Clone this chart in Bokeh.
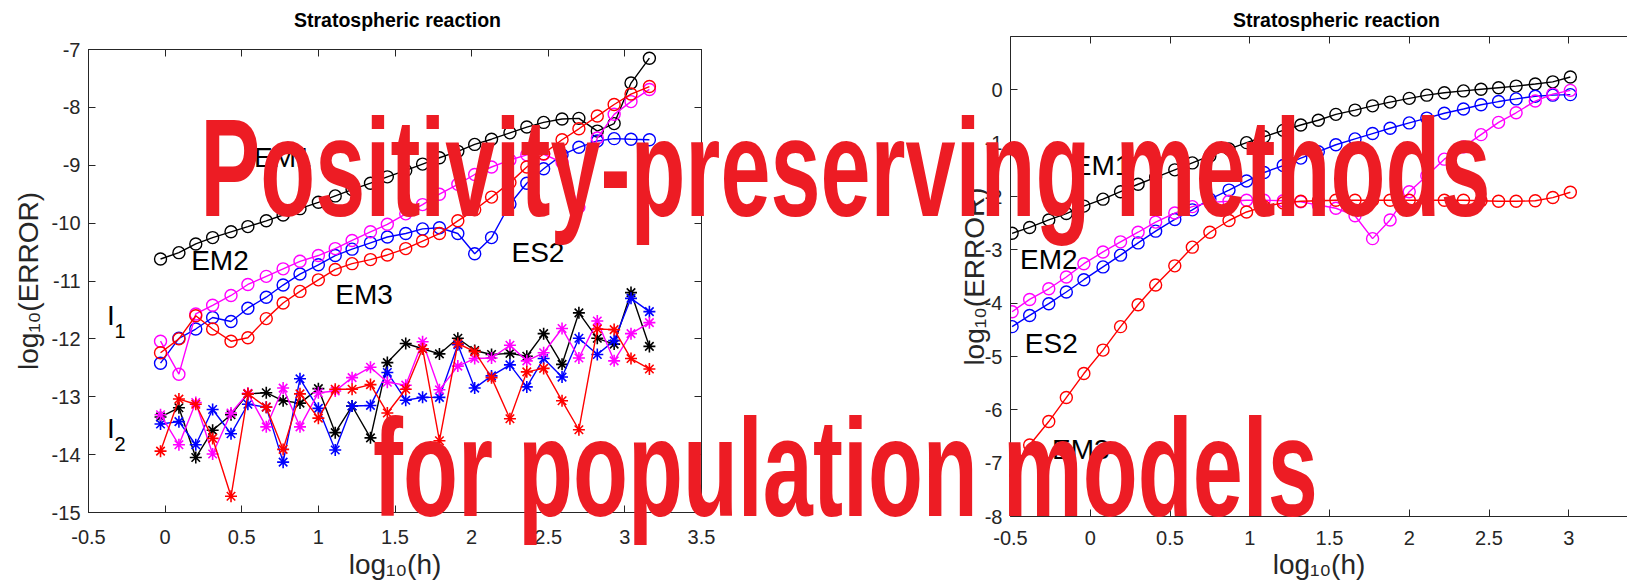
from bokeh.plotting import figure
from bokeh.layouts import column
from bokeh.models import Range1d, LinearAxis, FixedTicker, GridBox, CustomLabelingPolicy, InlineStyleSheet
from bokeh.embed import file_html
from bokeh.resources import INLINE
from bokeh.core.properties import value

# ---------------- data: left panel ----------------
log_h_left = [-0.03, 0.09, 0.20, 0.31, 0.43, 0.54, 0.66, 0.77, 0.88, 1.00, 1.11, 1.22, 1.34, 1.45,
              1.57, 1.68, 1.79, 1.91, 2.02, 2.13, 2.25, 2.36, 2.47, 2.59, 2.70, 2.82, 2.93, 3.04, 3.16]

I1_black = [-10.62, -10.51, -10.36, -10.25, -10.15, -10.06, -9.96, -9.86, -9.75, -9.64, -9.53, -9.42,
            -9.31, -9.20, -9.09, -8.98, -8.87, -8.76, -8.64, -8.55, -8.44, -8.34, -8.26, -8.20, -8.19,
            -8.41, -8.28, -7.58, -7.15]
I1_blue = [-12.42, -11.99, -11.83, -11.63, -11.70, -11.47, -11.28, -11.07, -10.88, -10.72, -10.56, -10.45,
           -10.34, -10.24, -10.18, -10.10, -10.08, -10.18, -10.53, -10.25, -9.67, -9.31, -9.06, -8.82,
           -8.69, -8.58, -8.54, -8.55, -8.56]
I1_magenta = [-12.04, -12.61, -11.57, -11.42, -11.25, -11.06, -10.92, -10.79, -10.66, -10.56, -10.44,
              -10.30, -10.15, -10.02, -9.84, -9.68, -9.50, -9.33, -9.16, -9.03, -8.91, -8.82, -8.81,
              -8.95, -9.72, -8.53, -8.12, -7.90, -7.69]
I1_red = [-12.24, -12.00, -11.60, -11.83, -12.04, -11.98, -11.65, -11.38, -11.18, -10.98, -10.80, -10.70,
          -10.63, -10.55, -10.44, -10.31, -10.18, -9.96, -9.77, -9.55, -9.30, -9.03, -8.80, -8.56, -8.37,
          -8.15, -7.95, -7.77, -7.64]

I2_black = [-13.35, -13.19, -14.05, -13.58, -13.31, -12.95, -12.93, -13.07, -13.11, -12.86, -13.62, -13.16,
            -13.71, -12.41, -12.08, -12.17, -12.26, -11.99, -12.20, -12.27, -12.25, -12.30, -11.91, -12.44,
            -11.55, -11.99, -12.09, -11.20, -12.13]
I2_blue = [-13.47, -13.43, -13.83, -13.22, -13.64, -13.13, -13.18, -14.13, -12.69, -13.20, -13.92, -13.16,
           -13.15, -12.58, -13.06, -13.01, -13.01, -12.10, -12.85, -12.64, -12.45, -12.83, -12.34, -12.66,
           -11.99, -12.27, -12.03, -11.30, -11.53]
I2_magenta = [-13.31, -13.83, -13.10, -13.99, -13.28, -12.94, -13.52, -12.85, -13.52, -12.93, -12.90, -12.67,
              -12.49, -12.75, -12.80, -12.05, -12.88, -12.47, -12.34, -12.33, -12.11, -12.38, -12.24, -11.82,
              -12.33, -11.69, -12.38, -11.91, -11.72]
I2_red = [-13.94, -13.04, -13.13, -13.72, -14.72, -12.95, -13.18, -13.91, -12.95, -13.37, -12.87, -12.87,
          -12.79, -13.28, -12.87, -12.17, -13.76, -12.08, -12.22, -12.67, -13.38, -12.57, -12.51, -13.07,
          -13.57, -11.83, -11.84, -12.34, -12.52]

# ---------------- data: right panel ----------------
log_h_right = [-0.49, -0.38, -0.26, -0.15, -0.04, 0.08, 0.19, 0.30, 0.41, 0.53, 0.64, 0.75, 0.87, 0.98,
               1.09, 1.21, 1.32, 1.43, 1.54, 1.66, 1.77, 1.88, 2.00, 2.11, 2.22, 2.34, 2.45, 2.56, 2.67,
               2.79, 2.90, 3.01]
R_black = [-2.69, -2.58, -2.44, -2.32, -2.18, -2.05, -1.91, -1.77, -1.64, -1.50, -1.37, -1.24, -1.11,
           -0.99, -0.88, -0.76, -0.66, -0.57, -0.46, -0.38, -0.30, -0.23, -0.16, -0.10, -0.055, -0.02,
           0.01, 0.04, 0.07, 0.11, 0.15, 0.24]
R_blue = [-4.44, -4.23, -4.01, -3.79, -3.56, -3.32, -3.10, -2.87, -2.65, -2.43, -2.25, -2.05, -1.88,
          -1.71, -1.55, -1.42, -1.28, -1.16, -1.03, -0.92, -0.82, -0.72, -0.62, -0.53, -0.44, -0.36,
          -0.28, -0.22, -0.17, -0.12, -0.10, -0.09]
R_magenta = [-4.16, -3.93, -3.73, -3.51, -3.26, -3.04, -2.85, -2.67, -2.48, -2.31, -2.19, -2.11, -2.09,
             -2.07, -2.07, -2.08, -2.10, -2.16, -2.22, -2.36, -2.79, -2.44, -1.91, -1.61, -1.30, -1.07,
             -0.84, -0.61, -0.43, -0.21, -0.08, -0.01]
R_red = [-7.10, -6.66, -6.22, -5.77, -5.32, -4.88, -4.44, -4.03, -3.66, -3.30, -2.95, -2.67, -2.45,
         -2.29, -2.19, -2.12, -2.09, -2.08, -2.07, -2.07, -2.07, -2.07, -2.07, -2.07, -2.07, -2.07,
         -2.08, -2.09, -2.09, -2.08, -2.02, -1.92]

# ---------------- ticks and labels ----------------
x_ticks_left = [-0.5, 0, 0.5, 1, 1.5, 2, 2.5, 3, 3.5]
x_tick_labels_left = ["-0.5", "0", "0.5", "1", "1.5", "2", "2.5", "3", "3.5"]
y_ticks_left = [-15, -14, -13, -12, -11, -10, -9, -8, -7]
y_tick_labels_left = ["-15", "-14", "-13", "-12", "-11", "-10", "-9", "-8", "-7"]
x_ticks_right = [-0.5, 0, 0.5, 1, 1.5, 2, 2.5, 3]
x_tick_labels_right = ["-0.5", "0", "0.5", "1", "1.5", "2", "2.5", "3"]
y_ticks_right = [-8, -7, -6, -5, -4, -3, -2, -1, 0]
y_tick_labels_right = ["-8", "-7", "-6", "-5", "-4", "-3", "-2", "-1", "0"]

title_text = "Stratospheric reaction"
x_label = "log\u2081\u2080(h)"
y_label = "log\u2081\u2080(ERROR)"
overlay_lines = ["Positivity-preserving methods", "for population models"]

left_labels = [("EM1", 0.58, -8.87), ("EM2", 0.17, -10.64), ("ES2", 2.26, -10.50), ("EM3", 1.11, -11.23),
               ("I", -0.38, -11.60), ("I", -0.38, -13.55)]
left_subscripts = [("1", -0.33, -11.86), ("2", -0.33, -13.81)]
right_labels = [("EM1", -0.11, -1.42), ("EM2", -0.44, -3.19), ("ES2", -0.41, -4.75), ("EM3", -0.24, -6.75)]

FONT = "Liberation Sans"
AX = "#262626"
COLORS = {"black": "#000000", "blue": "#0000ff", "magenta": "#ff00ff", "red": "#ff0000"}

W1 = 760
W2 = 1627 - W1
H = 584
SY = 1.547          # vertical stretch of the banner text (it is a tall condensed face)
BANNER_SHIFT = 222  # measured page offset of the stretched banner canvas

HIDE_LABELS = "for (const i of indices) { indices.unset(i) }\nreturn indices"


def style_axes(p, xt, xl, yt, yl, x_std, xl_std, y_lab_std):
    p.xaxis.ticker = FixedTicker(ticks=xt)
    p.xaxis.major_label_overrides = {t: l for t, l in zip(xt, xl)}
    p.yaxis.ticker = FixedTicker(ticks=yt)
    p.yaxis.major_label_overrides = {t: l for t, l in zip(yt, yl)}
    for ax in p.xaxis + p.yaxis:
        ax.axis_line_color = AX
        ax.major_tick_line_color = AX
        ax.minor_tick_line_color = None
        ax.major_tick_in = 7
        ax.major_tick_out = 0
        ax.major_label_text_color = AX
        ax.major_label_text_font = FONT
        ax.major_label_text_font_size = "20px"
        ax.axis_label_text_font = FONT
        ax.axis_label_text_font_size = "28px"
        ax.axis_label_text_font_style = "normal"
        ax.axis_label_text_color = AX
    p.xaxis.axis_label = x_label
    p.yaxis.axis_label = y_label
    p.xaxis.major_label_standoff = x_std
    p.yaxis.major_label_standoff = 8
    p.xaxis.axis_label_standoff = xl_std
    p.yaxis.axis_label_standoff = y_lab_std
    p.grid.visible = False


def add_box_axis(p, place, ticks):
    ax = LinearAxis(ticker=FixedTicker(ticks=ticks))
    ax.axis_line_color = AX
    ax.major_tick_line_color = AX
    ax.minor_tick_line_color = None
    ax.major_tick_in = 7
    ax.major_tick_out = 0
    ax.major_label_text_font_size = "1px"
    ax.major_label_standoff = 0
    ax.major_label_policy = CustomLabelingPolicy(code=HIDE_LABELS)
    p.add_layout(ax, place)


def add_series(p, xs, ys, color, marker):
    p.line(xs, ys, line_color=color, line_width=1.4)
    if marker == "circle":
        p.scatter(xs, ys, marker="circle", size=12, fill_color=None, line_color=color, line_width=1.4)
    else:
        p.scatter(xs, ys, marker="asterisk", size=12, line_color=color, line_width=1.6)


# ---------------- left figure ----------------
p1 = figure(width=W1, height=H, x_range=Range1d(-0.5, 3.5), y_range=Range1d(-15, -7), title=None,
            output_backend="svg", toolbar_location=None,
            min_border_left=88, min_border_right=W1 - 701, min_border_top=49, min_border_bottom=H - 512)
p1.outline_line_color = AX
style_axes(p1, x_ticks_left, x_tick_labels_left, y_ticks_left, y_tick_labels_left, 17, 2, 5)
add_box_axis(p1, "above", x_ticks_left)
add_box_axis(p1, "right", y_ticks_left)

for name, ys in [("black", I1_black), ("blue", I1_blue), ("magenta", I1_magenta), ("red", I1_red)]:
    add_series(p1, log_h_left, ys, COLORS[name], "circle")
for name, ys in [("black", I2_black), ("blue", I2_blue), ("magenta", I2_magenta), ("red", I2_red)]:
    add_series(p1, log_h_left, ys, COLORS[name], "asterisk")

p1.text(x=[l[1] for l in left_labels], y=[l[2] for l in left_labels], text=[l[0] for l in left_labels],
        text_font=value(FONT), text_font_size="28px", text_color="#000000",
        text_align="left", text_baseline="middle")
p1.text(x=[l[1] for l in left_subscripts], y=[l[2] for l in left_subscripts],
        text=[l[0] for l in left_subscripts],
        text_font=value(FONT), text_font_size="20px", text_color="#000000",
        text_align="left", text_baseline="middle")

# ---------------- right figure ----------------
F2_LEFT = 1010
xr_end = -0.5 + (1627 - F2_LEFT) / 159.5
p2 = figure(width=W2, height=H, x_range=Range1d(-0.5, xr_end), y_range=Range1d(-8, 1), title=None,
            output_backend="svg", toolbar_location=None,
            min_border_left=F2_LEFT - W1, min_border_right=0, min_border_top=36, min_border_bottom=H - 516)
p2.outline_line_color = None
style_axes(p2, x_ticks_right, x_tick_labels_right, y_ticks_right, y_tick_labels_right, 14, 1, -8)
add_box_axis(p2, "above", x_ticks_right)

for name, ys in [("black", R_black), ("blue", R_blue), ("magenta", R_magenta), ("red", R_red)]:
    add_series(p2, log_h_right, ys, COLORS[name], "circle")

p2.text(x=[l[1] for l in right_labels], y=[l[2] for l in right_labels], text=[l[0] for l in right_labels],
        text_font=value(FONT), text_font_size="28px", text_color="#000000",
        text_align="left", text_baseline="middle")


def overlay_fig(h):
    f = figure(width=1627, height=h, x_range=Range1d(0, 1627), y_range=Range1d(h, 0), title=None,
               x_axis_location=None, y_axis_location=None,
               min_border=0, min_border_left=0, min_border_right=0, min_border_top=0, min_border_bottom=0,
               output_backend="svg", toolbar_location=None)
    f.outline_line_color = None
    f.background_fill_color = None
    f.border_fill_color = None
    f.grid.visible = False
    return f


# ---------------- titles (pixel-placed overlay) ----------------
ov_titles = overlay_fig(H)
ov_titles.text(x=[397, 1336], y=[19, 19], text=[title_text, title_text],
               text_font=value(FONT), text_font_size="19.5px", text_font_style="bold",
               text_color="#000000", text_align="center", text_baseline="middle")

# ---------------- red banner (stretched vertically) ----------------
ov_text = overlay_fig(H)
banner_y = [(330 - BANNER_SHIFT) / SY, (524 - BANNER_SHIFT) / SY]
ov_text.text(x=[845, 845], y=banner_y, text=overlay_lines,
             text_font=value(FONT), text_font_size="90px", text_font_style="bold",
             text_color="#ed1c24", text_align="center", text_baseline="alphabetic")
ov_text.stylesheets = [InlineStyleSheet(
    css=f":host {{ transform: scaleY({SY}); transform-origin: 0px 0px; }}")]

layout = GridBox(children=[(column(p1), 0, 0), (column(p2), 0, 1),
                           (column(ov_titles), 0, 0, 1, 2), (column(ov_text), 0, 0, 1, 2)],
                 spacing=0)

open("out.html", "w").write(file_html(layout, INLINE))
